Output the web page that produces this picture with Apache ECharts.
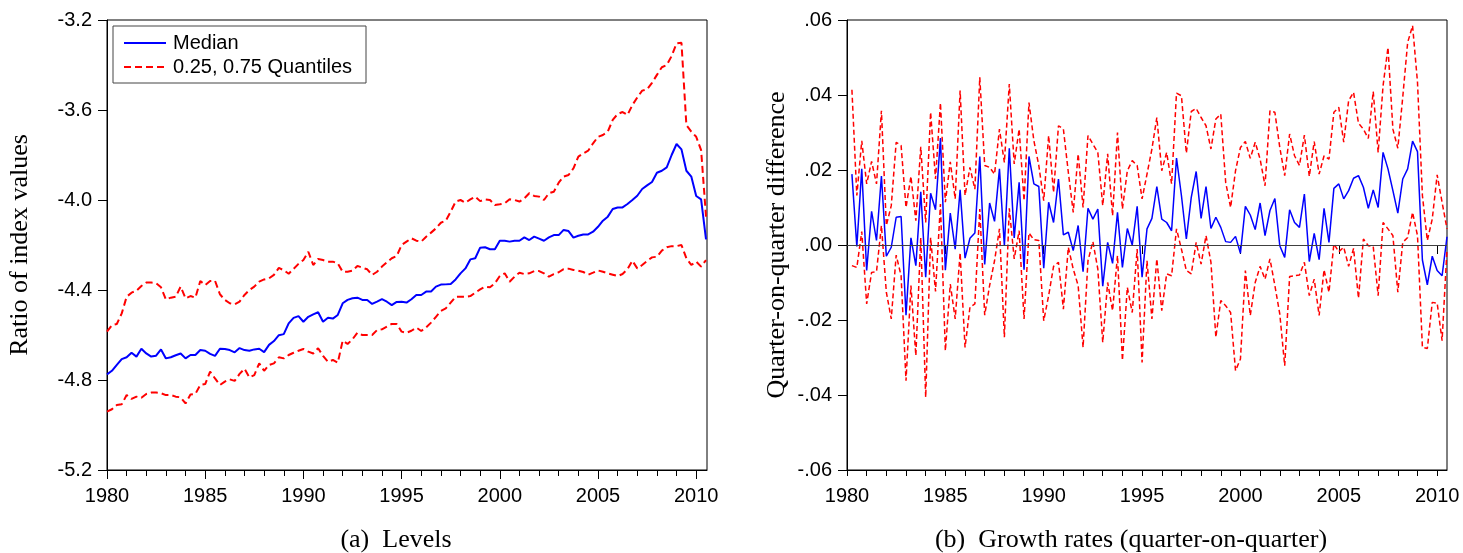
<!DOCTYPE html>
<html><head><meta charset="utf-8">
<script src="https://cdn.jsdelivr.net/npm/echarts@6/dist/echarts.min.js"></script>
<style>html,body{margin:0;padding:0;background:#fff}#chart{width:1463px;height:553px}</style>
</head><body><div id="chart"></div>
<script>
// Quarterly periods 1980Q1 .. 2010Q3
const quarters = [];
for (let y = 1980; y <= 2010; y++) for (let q = 1; q <= 4; q++) quarters.push(y + 'Q' + q);
quarters.length = 123;
const growthQuarters = quarters.slice(1); // 1980Q2 .. 2010Q3

const yearTicks = [1980,1981,1982,1983,1984,1985,1986,1987,1988,1989,1990,1991,1992,1993,1994,1995,1996,1997,1998,1999,2000,2001,2002,2003,2004,2005,2006,2007,2008,2009,2010];
const yearLabels = [1980,1985,1990,1995,2000,2005,2010];

const levelMedian = [
-4.775,-4.759,-4.733,-4.707,-4.699,-4.679,-4.696,-4.661,-4.682,-4.696,
-4.692,-4.664,-4.704,-4.699,-4.690,-4.682,-4.704,-4.689,-4.689,-4.667,
-4.670,-4.684,-4.693,-4.661,-4.662,-4.667,-4.677,-4.658,-4.667,-4.670,
-4.664,-4.661,-4.676,-4.644,-4.627,-4.601,-4.596,-4.548,-4.524,-4.516,
-4.541,-4.519,-4.508,-4.499,-4.541,-4.523,-4.527,-4.511,-4.459,-4.444,
-4.437,-4.434,-4.444,-4.444,-4.462,-4.452,-4.441,-4.452,-4.467,-4.453,
-4.452,-4.456,-4.441,-4.422,-4.422,-4.407,-4.407,-4.385,-4.376,-4.375,
-4.373,-4.353,-4.326,-4.304,-4.264,-4.259,-4.212,-4.210,-4.219,-4.219,
-4.181,-4.181,-4.185,-4.181,-4.181,-4.166,-4.178,-4.163,-4.172,-4.181,
-4.166,-4.156,-4.156,-4.133,-4.138,-4.167,-4.159,-4.153,-4.153,-4.141,
-4.119,-4.092,-4.074,-4.040,-4.033,-4.033,-4.018,-4.000,-3.981,-3.951,
-3.935,-3.920,-3.879,-3.870,-3.855,-3.800,-3.751,-3.775,-3.870,-3.896,
-3.982,-3.997,-4.175];
const levelQ75 = [
-4.585,-4.556,-4.551,-4.504,-4.430,-4.412,-4.403,-4.382,-4.367,-4.367,
-4.370,-4.388,-4.442,-4.434,-4.430,-4.385,-4.437,-4.427,-4.434,-4.360,
-4.378,-4.360,-4.359,-4.419,-4.444,-4.459,-4.464,-4.452,-4.422,-4.400,
-4.385,-4.363,-4.353,-4.348,-4.333,-4.302,-4.312,-4.328,-4.306,-4.284,
-4.267,-4.230,-4.289,-4.262,-4.267,-4.274,-4.274,-4.282,-4.319,-4.319,
-4.314,-4.293,-4.301,-4.308,-4.333,-4.319,-4.296,-4.277,-4.259,-4.249,
-4.200,-4.185,-4.170,-4.181,-4.185,-4.163,-4.145,-4.126,-4.101,-4.092,
-4.052,-4.007,-4.000,-4.012,-3.997,-3.985,-4.005,-3.997,-4.000,-4.022,
-4.019,-4.015,-3.997,-4.000,-4.007,-3.993,-3.970,-3.982,-3.985,-4.000,
-3.970,-3.963,-3.923,-3.896,-3.889,-3.859,-3.807,-3.793,-3.781,-3.748,
-3.719,-3.711,-3.696,-3.644,-3.618,-3.609,-3.622,-3.578,-3.544,-3.514,
-3.508,-3.479,-3.444,-3.410,-3.400,-3.360,-3.304,-3.301,-3.667,-3.696,
-3.719,-3.778,-4.074];
const levelQ25 = [
-4.941,-4.930,-4.911,-4.908,-4.867,-4.884,-4.874,-4.879,-4.862,-4.856,
-4.856,-4.859,-4.867,-4.867,-4.874,-4.877,-4.904,-4.864,-4.862,-4.822,
-4.818,-4.763,-4.793,-4.822,-4.807,-4.797,-4.804,-4.773,-4.750,-4.788,
-4.778,-4.726,-4.759,-4.733,-4.726,-4.699,-4.704,-4.689,-4.679,-4.670,
-4.662,-4.674,-4.682,-4.659,-4.693,-4.719,-4.711,-4.723,-4.625,-4.640,
-4.619,-4.590,-4.600,-4.600,-4.600,-4.578,-4.575,-4.563,-4.551,-4.551,
-4.585,-4.590,-4.581,-4.567,-4.582,-4.566,-4.545,-4.519,-4.493,-4.482,
-4.456,-4.430,-4.430,-4.430,-4.427,-4.412,-4.397,-4.385,-4.388,-4.370,
-4.338,-4.326,-4.363,-4.341,-4.323,-4.329,-4.326,-4.316,-4.316,-4.326,
-4.341,-4.329,-4.321,-4.307,-4.305,-4.311,-4.314,-4.320,-4.332,-4.323,
-4.313,-4.319,-4.326,-4.332,-4.338,-4.329,-4.308,-4.270,-4.304,-4.289,
-4.271,-4.255,-4.252,-4.225,-4.210,-4.205,-4.205,-4.200,-4.259,-4.289,
-4.274,-4.296,-4.267];

const growthMedian = [
0.0189,-0.0004,0.0203,-0.0068,0.0090,0.0012,0.0184,-0.0030,-0.0006,0.0074,
0.0076,-0.0187,0.0019,-0.0055,0.0142,-0.0086,0.0138,0.0094,0.0285,-0.0067,
0.0085,-0.0011,0.0147,-0.0035,0.0018,0.0032,0.0236,-0.0052,0.0112,0.0063,
0.0203,-0.0002,0.0258,0.0019,0.0167,-0.0066,0.0236,0.0163,0.0156,-0.0062,
0.0114,0.0060,0.0176,0.0027,0.0034,-0.0015,0.0052,-0.0071,0.0098,0.0069,
0.0096,-0.0110,0.0007,-0.0049,0.0087,-0.0060,0.0044,0.0000,0.0103,-0.0086,
0.0043,0.0071,0.0156,0.0069,0.0060,0.0038,0.0232,0.0132,0.0016,0.0127,
0.0196,0.0071,0.0156,0.0044,0.0074,0.0047,0.0009,0.0007,0.0023,-0.0022,
0.0103,0.0080,0.0041,0.0112,0.0025,0.0092,0.0124,-0.0002,-0.0033,0.0094,
0.0060,0.0047,0.0136,-0.0044,0.0031,-0.0039,0.0098,0.0007,0.0151,0.0163,
0.0123,0.0145,0.0178,0.0185,0.0154,0.0098,0.0147,0.0100,0.0247,0.0203,
0.0145,0.0085,0.0176,0.0203,0.0277,0.0249,-0.0040,-0.0106,-0.0030,-0.0068,
-0.0082,0.0022];
const growthQ75 = [
0.0414,0.0132,0.0278,0.0163,0.0223,0.0163,0.0358,0.0052,0.0105,0.0274,
0.0265,0.0100,0.0183,0.0065,0.0262,0.0060,0.0354,0.0176,0.0379,0.0114,
0.0222,0.0123,0.0412,0.0132,0.0207,0.0149,0.0447,0.0212,0.0207,0.0189,
0.0309,0.0220,0.0429,0.0216,0.0309,0.0118,0.0380,0.0278,0.0212,0.0118,
0.0292,0.0140,0.0318,0.0309,0.0194,0.0087,0.0243,0.0100,0.0292,0.0269,
0.0247,0.0105,0.0243,0.0078,0.0300,0.0096,0.0198,0.0225,0.0212,0.0123,
0.0189,0.0256,0.0340,0.0198,0.0247,0.0163,0.0405,0.0398,0.0245,0.0356,
0.0364,0.0340,0.0318,0.0256,0.0336,0.0349,0.0167,0.0100,0.0198,0.0260,
0.0276,0.0231,0.0274,0.0229,0.0158,0.0358,0.0354,0.0260,0.0185,0.0296,
0.0238,0.0212,0.0293,0.0183,0.0276,0.0189,0.0238,0.0229,0.0354,0.0367,
0.0274,0.0385,0.0407,0.0325,0.0309,0.0284,0.0409,0.0247,0.0425,0.0527,
0.0309,0.0258,0.0394,0.0540,0.0585,0.0434,0.0132,0.0012,0.0069,0.0187,
0.0114,0.0043];
const growthQ25 = [
-0.0055,-0.0060,0.0036,-0.0157,-0.0073,-0.0071,0.0052,-0.0126,-0.0197,-0.0027,
-0.0082,-0.0362,-0.0108,-0.0295,0.0020,-0.0406,0.0020,-0.0124,0.0109,-0.0282,
-0.0104,-0.0197,-0.0021,-0.0273,-0.0166,-0.0157,0.0096,-0.0187,-0.0108,-0.0042,
0.0043,-0.0246,0.0098,-0.0037,0.0038,-0.0197,0.0032,0.0014,0.0012,-0.0202,
-0.0135,-0.0057,-0.0046,-0.0171,-0.0006,-0.0064,-0.0108,-0.0273,-0.0042,0.0009,
-0.0064,-0.0260,-0.0100,-0.0175,-0.0028,-0.0308,-0.0113,-0.0180,-0.0011,-0.0313,
-0.0042,-0.0197,-0.0037,-0.0175,-0.0077,-0.0082,0.0043,-0.0011,-0.0068,-0.0077,
0.0007,-0.0051,0.0025,-0.0046,-0.0246,-0.0148,-0.0162,-0.0180,-0.0335,-0.0304,
-0.0068,-0.0188,-0.0100,-0.0057,-0.0091,-0.0037,-0.0108,-0.0184,-0.0322,-0.0084,
-0.0082,-0.0080,-0.0046,-0.0135,-0.0091,-0.0188,-0.0066,-0.0126,0.0003,-0.0018,
-0.0006,-0.0057,-0.0009,-0.0142,0.0016,-0.0002,-0.0004,-0.0135,0.0060,0.0043,
0.0025,-0.0126,0.0007,0.0020,0.0087,0.0025,-0.0273,-0.0276,-0.0153,-0.0155,
-0.0255,-0.0011];

function qx(s) { return +s.slice(0, 4) + (+s.slice(5) - 1) / 4; }
function pairs(periods, vals) { return vals.map((v, i) => [qx(periods[i]), v]); }

const SANS = 'Liberation Sans, Arial, sans-serif';
const SERIF = 'Liberation Serif, Times New Roman, serif';
const BLUE = '#0000ff', RED = '#ff0000';

function xAxes(grid, max) {
  return [{
    type: 'value', gridIndex: grid, min: 1980, max: max,
    axisLine: { show: true, onZero: false, lineStyle: { color: '#000', width: 1 } },
    axisTick: { show: true, length: 6, customValues: yearTicks, lineStyle: { color: '#000', width: 1 } },
    axisLabel: { customValues: yearLabels, margin: 16, color: '#000', fontFamily: SANS, fontSize: 20,
      formatter: v => String(Math.round(v)) },
    splitLine: { show: false }
  }, {
    type: 'value', gridIndex: grid, min: 1980, max: max, position: 'bottom',
    axisLine: { show: false },
    axisTick: { show: true, length: 9, customValues: yearLabels, lineStyle: { color: '#000', width: 1 } },
    axisLabel: { show: false },
    splitLine: { show: false }
  }];
}

const option = {
  animation: false,
  backgroundColor: '#fff',
  title: [
    { text: '(a)  Levels', left: 391, top: 522, textAlign: 'center',
      textStyle: { fontFamily: SERIF, fontSize: 26, fontWeight: 'normal', color: '#000' } },
    { text: '(b)  Growth rates (quarter-on-quarter)', left: 1126, top: 522, textAlign: 'center',
      textStyle: { fontFamily: SERIF, fontSize: 26, fontWeight: 'normal', color: '#000' } }
  ],
  legend: {
    data: ['Median', '0.25, 0.75 Quantiles'],
    orient: 'vertical', left: 113, top: 26,
    itemWidth: 42, itemHeight: 20, itemGap: 4,
    padding: [7, 14, 6, 10],
    borderColor: '#444', borderWidth: 1,
    itemStyle: { opacity: 0 },
    textStyle: { fontFamily: SANS, fontSize: 20, color: '#000', padding: [0, 0, 0, 2] }
  },
  grid: [
    { left: 107, top: 20, width: 600, height: 450, show: true, borderColor: '#000', borderWidth: 1 },
    { left: 847, top: 20, width: 600, height: 450, show: true, borderColor: '#000', borderWidth: 1 }
  ],
  xAxis: [].concat(xAxes(0, 2010.55), xAxes(1, 2010.5)),
  yAxis: [{
    type: 'value', gridIndex: 0, min: -5.2, max: -3.2, interval: 0.4,
    name: 'Ratio of index values', nameLocation: 'middle', nameGap: 74,
    nameTextStyle: { fontFamily: SERIF, fontSize: 26, color: '#000' },
    axisLine: { show: true, lineStyle: { color: '#000', width: 1 } },
    axisTick: { show: true, length: 9, lineStyle: { color: '#000' } },
    axisLabel: { margin: 15, color: '#000', fontFamily: SANS, fontSize: 20, formatter: v => v.toFixed(1) },
    splitLine: { show: false }
  }, {
    type: 'value', gridIndex: 1, min: -0.06, max: 0.06, interval: 0.02,
    name: 'Quarter-on-quarter difference', nameLocation: 'middle', nameGap: 57,
    nameTextStyle: { fontFamily: SERIF, fontSize: 26, color: '#000' },
    axisLine: { show: true, lineStyle: { color: '#000', width: 1 } },
    axisTick: { show: true, length: 9, lineStyle: { color: '#000' } },
    axisLabel: { margin: 15, color: '#000', fontFamily: SANS, fontSize: 20,
      formatter: v => v.toFixed(2).replace('0.', '.') },
    splitLine: { show: false }
  }],
  series: [
    { name: '0.25, 0.75 Quantiles', type: 'line', xAxisIndex: 0, yAxisIndex: 0, showSymbol: false, symbol: 'none',
      data: pairs(quarters, levelQ75), lineStyle: { color: RED, width: 2, type: [7, 4] }, itemStyle: { color: RED } },
    { name: '0.25, 0.75 Quantiles', type: 'line', xAxisIndex: 0, yAxisIndex: 0, showSymbol: false, symbol: 'none',
      data: pairs(quarters, levelQ25), lineStyle: { color: RED, width: 2, type: [7, 4] }, itemStyle: { color: RED } },
    { name: 'Median', type: 'line', xAxisIndex: 0, yAxisIndex: 0, showSymbol: false, symbol: 'none',
      data: pairs(quarters, levelMedian), lineStyle: { color: BLUE, width: 2 }, itemStyle: { color: BLUE } },
    { name: '0.25, 0.75 Quantiles', type: 'line', xAxisIndex: 2, yAxisIndex: 1, showSymbol: false, symbol: 'none',
      data: pairs(growthQuarters, growthQ75), lineStyle: { color: RED, width: 1.5, type: [5, 3] }, itemStyle: { color: RED } },
    { name: '0.25, 0.75 Quantiles', type: 'line', xAxisIndex: 2, yAxisIndex: 1, showSymbol: false, symbol: 'none',
      data: pairs(growthQuarters, growthQ25), lineStyle: { color: RED, width: 1.5, type: [5, 3] }, itemStyle: { color: RED } },
    { name: 'Median', type: 'line', xAxisIndex: 2, yAxisIndex: 1, showSymbol: false, symbol: 'none',
      data: pairs(growthQuarters, growthMedian), lineStyle: { color: BLUE, width: 1.5 }, itemStyle: { color: BLUE },
      markLine: { silent: true, symbol: 'none', label: { show: false },
        lineStyle: { color: '#404040', width: 1, type: 'solid' }, data: [{ yAxis: 0 }] } }
  ]
};
const chart = echarts.init(document.getElementById('chart'), null, { renderer: 'canvas' });
chart.setOption(option);
</script></body></html>
